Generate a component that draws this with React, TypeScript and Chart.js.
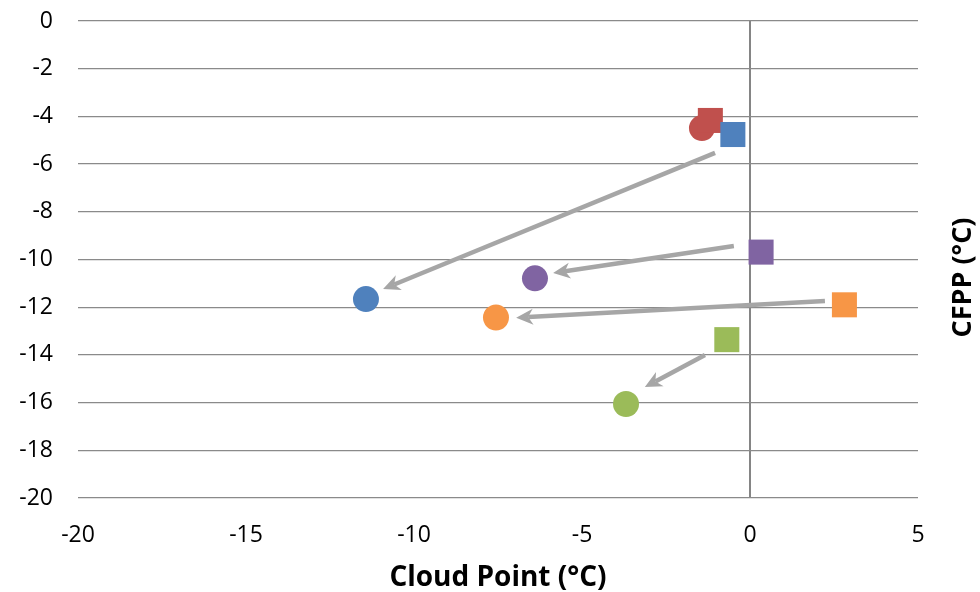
import React, { useEffect, useRef } from "react";
import { Chart, registerables } from "chart.js";

Chart.register(...registerables);

// Series order: red, blue, purple, orange, green
const seriesColors = ["#C0504D", "#4F81BD", "#8064A2", "#F79646", "#9BBB59"];
// squares (before)
const squareCloud = [-1.18, -0.51, 0.33, 2.81, -0.69];
const squareCfpp = [-4.17, -4.76, -9.69, -11.9, -13.36];
// circles (after)
const circleCloud = [-1.43, -11.43, -6.4, -7.56, -3.69];
const circleCfpp = [-4.49, -11.66, -10.79, -12.43, -16.06];

// arrows (blue, purple, orange, green)
const arrowColor = "#A6A6A6";
const arrowFromX = [-1.04, -0.48, 2.23, -1.34];
const arrowFromY = [-5.53, -9.43, -11.74, -14.0];
const arrowToX = [-10.92, -5.86, -6.96, -3.13];
const arrowToY = [-11.24, -10.57, -12.44, -15.35];

const xMin = -20, xMax = 5, xStep = 5;
const yMin = -20, yMax = 0, yStep = 2;
const xTitle = "Cloud Point (°C)";
const yTitle = "CFPP (°C)";

const FONT = "'Open Sans', 'Liberation Sans', sans-serif";

const arrowPlugin = {
  id: "arrows",
  afterDatasetsDraw(chart: any) {
    const { ctx, scales } = chart;
    const xs = scales.x, ys = scales.y;
    ctx.save();
    for (let i = 0; i < arrowFromX.length; i++) {
      const x0 = xs.getPixelForValue(arrowFromX[i]);
      const y0 = ys.getPixelForValue(arrowFromY[i]);
      const x1 = xs.getPixelForValue(arrowToX[i]);
      const y1 = ys.getPixelForValue(arrowToY[i]);
      const ang = Math.atan2(y1 - y0, x1 - x0);
      const L = 17, W = 8, N = 12;
      const cos = Math.cos(ang), sin = Math.sin(ang);
      const bx = x1 - N * cos, by = y1 - N * sin;
      ctx.strokeStyle = arrowColor;
      ctx.lineWidth = 4.5;
      ctx.lineCap = "butt";
      ctx.beginPath();
      ctx.moveTo(x0, y0);
      ctx.lineTo(bx, by);
      ctx.stroke();
      ctx.fillStyle = arrowColor;
      ctx.beginPath();
      ctx.moveTo(x1, y1);
      ctx.lineTo(x1 - L * cos + W * sin, y1 - L * sin - W * cos);
      ctx.lineTo(bx, by);
      ctx.lineTo(x1 - L * cos - W * sin, y1 - L * sin + W * cos);
      ctx.closePath();
      ctx.fill();
    }
    ctx.restore();
  },
};

const yTitlePlugin = {
  id: "yTitleRight",
  afterDraw(chart: any) {
    const { ctx, chartArea } = chart;
    ctx.save();
    ctx.translate(chartArea.right + 45, (chartArea.top + chartArea.bottom) / 2 + 18);
    ctx.rotate(-Math.PI / 2);
    ctx.font = `bold 27px ${FONT}`;
    ctx.fillStyle = "#000";
    ctx.textAlign = "center";
    ctx.textBaseline = "middle";
    ctx.fillText(yTitle, 0, 0);
    ctx.restore();
  },
};

export default function App() {
  const ref = useRef<HTMLCanvasElement | null>(null);
  useEffect(() => {
    if (!ref.current) return;
    const datasets: any[] = [];
    seriesColors.forEach((c, i) => {
      datasets.push({
        label: "c" + i,
        data: [{ x: circleCloud[i], y: circleCfpp[i] }],
        pointStyle: "circle",
        pointRadius: 13,
        pointHoverRadius: 13,
        backgroundColor: c,
        borderColor: c,
        borderWidth: 0,
        order: 100 - i,
      });
    });
    seriesColors.forEach((c, i) => {
      datasets.push({
        label: "s" + i,
        data: [{ x: squareCloud[i], y: squareCfpp[i] }],
        pointStyle: "rect",
        pointRadius: 17.7,
        pointHoverRadius: 17.7,
        backgroundColor: c,
        borderColor: c,
        borderWidth: 0,
        order: 50 - i,
      });
    });
    const chart = new Chart(ref.current, {
      type: "scatter",
      data: { datasets },
      plugins: [arrowPlugin, yTitlePlugin],
      options: {
        animation: false,
        responsive: false,
        layout: { padding: { left: 0, top: 21, right: 62, bottom: 0 } },
        plugins: { legend: { display: false }, tooltip: { enabled: false } },
        scales: {
          x: {
            type: "linear",
            min: xMin,
            max: xMax,
            ticks: {
              stepSize: xStep,
              padding: 24,
              color: "#000",
              font: { family: FONT, size: 23 },
            },
            grid: {
              drawTicks: false,
              color: (c: any) => (c.tick && c.tick.value === 0 ? "#858585" : "rgba(0,0,0,0)"),
              lineWidth: (c: any) => (c.tick && c.tick.value === 0 ? 2 : 0),
            },
            border: { display: false },
            title: {
              display: true,
              text: xTitle,
              color: "#000",
              font: { family: FONT, size: 28, weight: "bold" },
              padding: { top: 0, bottom: -3 },
            },
            afterFit: (s: any) => {
              s.height = 94;
              s.paddingLeft = 0;
              s.paddingRight = 0;
            },
          },
          y: {
            type: "linear",
            min: yMin,
            max: yMax,
            ticks: {
              stepSize: yStep,
              padding: 25,
              color: "#000",
              font: { family: FONT, size: 23 },
            },
            grid: { drawTicks: false, color: "#8A8A8A", lineWidth: 1.3 },
            border: { display: false },
            afterFit: (s: any) => {
              s.width = 78;
              s.paddingTop = 0;
              s.paddingBottom = 0;
            },
          },
        },
      },
    });
    return () => chart.destroy();
  }, []);
  return (
    <div style={{ position: "absolute", left: 0, top: 0, width: 980, height: 592, background: "#fff" }}>
      <canvas ref={ref} width={980} height={592} style={{ width: 980, height: 592 }} />
    </div>
  );
}
